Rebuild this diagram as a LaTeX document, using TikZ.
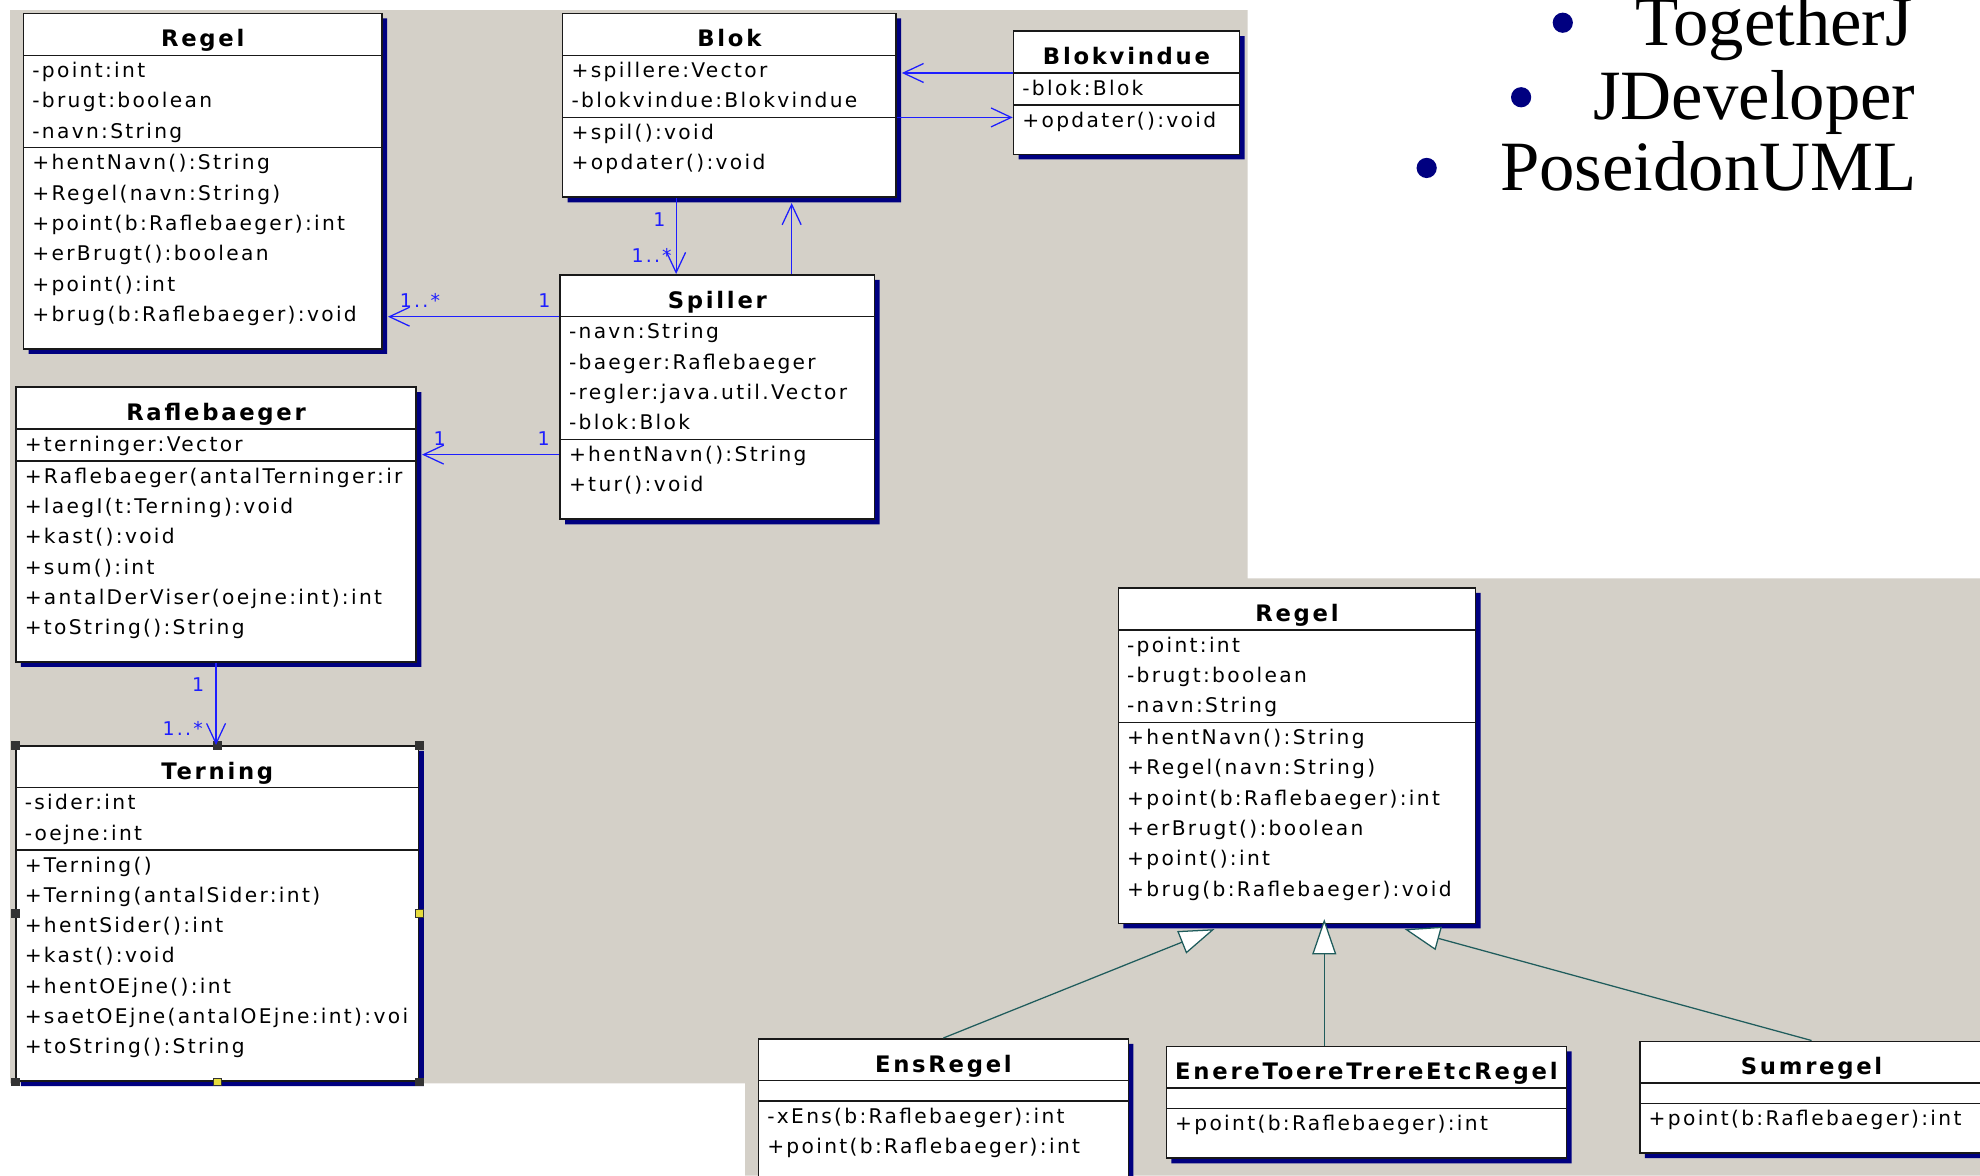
\documentclass[tikz,border=0pt]{standalone}
\usepackage{fontspec}
\newfontfamily\umlfont[LetterSpace=11.5]{DejaVu Sans}
\newfontfamily\umlhead[LetterSpace=12]{DejaVu Sans}
\newfontfamily\slidefont{Liberation Serif}
\usetikzlibrary{arrows.meta,positioning,calc,shapes.multipart,shadows}
\definecolor{panel}{HTML}{D4D0C8}
\definecolor{navy}{HTML}{000080}
\definecolor{linkblue}{HTML}{1E1EFF}
\definecolor{genline}{HTML}{1F5C5C}
\definecolor{gripdark}{HTML}{333333}
\definecolor{gripyellow}{HTML}{E6DC3C}
\newcommand{\lnstrut}{\rule[-7pt]{0pt}{24pt}}
\newcommand{\padstrut}{\rule[-21pt]{0pt}{38pt}}
\newcommand{\nostrut}{\rule{0pt}{15pt}}
\newcommand{\classname}[1]{{\umlhead\fontsize{18}{32}\selectfont\bfseries\rule[-6pt]{0pt}{32pt}#1}}
\tikzset{
  cls/.style={rectangle split,rectangle split parts=3,rectangle split part align={center,left,left},
    draw=black!90,line width=1.2pt,fill=white,align=left,inner xsep=7pt,inner ysep=0pt,anchor=north west,
    font=\umlfont\fontsize{16}{24}\selectfont,
    drop shadow={shadow xshift=4pt,shadow yshift=-4pt,fill=navy,opacity=1}},
  assoc/.style={draw=linkblue,line width=1pt,-{Straight Barb[length=16pt,width=15pt]}},
  gen/.style={draw=genline,line width=1pt,-{Triangle[length=28pt,width=19pt,fill=white]}},
  mult/.style={font=\umlfont\fontsize{15}{15}\selectfont,text=linkblue,inner sep=0pt},
  grip/.style={draw=gripdark,fill=gripdark,minimum size=6pt,inner sep=0pt},
  gripy/.style={grip,fill=gripyellow},
  slide/.style={font=\slidefont\fontsize{56}{60}\selectfont,inner sep=0pt,anchor=base east},
  dot/.style={circle,fill=navy,minimum size=16pt,inner sep=0pt},
}
\begin{document}
\begin{tikzpicture}[x=1pt,y=-1pt]
\useasboundingbox (0,0) rectangle (1568,931);
\clip (0,0) rectangle (1568,931);
\fill[panel] (8,8) -- (988,8) -- (988,458) -- (1568,458) -- (1568,931) -- (590,931) -- (590,858) -- (8,858) -- cycle;

% upper diagram
\node[cls,minimum width=284pt] (regel) at (18,10) {\classname{Regel}
  \nodepart{two}\lnstrut-point:int\\-brugt:boolean\\-navn:String\lnstrut
  \nodepart{three}\lnstrut+hentNavn():String\\+Regel(navn:String)\\+point(b:Raflebaeger):int\\+erBrugt():boolean\\+point():int\\+brug(b:Raflebaeger):void\padstrut};
\node[cls,minimum width=264pt] (blok) at (445,10) {\classname{Blok}
  \nodepart{two}\lnstrut+spillere:Vector\\-blokvindue:Blokvindue\lnstrut
  \nodepart{three}\lnstrut+spil():void\\+opdater():void\padstrut};
\node[cls,minimum width=179pt] (vindue) at (802,24) {\classname{Blokvindue}
  \nodepart{two}\lnstrut-blok:Blok
  \nodepart{three}\padstrut+opdater():void};
\node[cls,minimum width=249pt] (spiller) at (443,217) {\classname{Spiller}
  \nodepart{two}\lnstrut-navn:String\\-baeger:Raflebaeger\\-regler:java.util.Vector\\-blok:Blok\lnstrut
  \nodepart{three}\lnstrut+hentNavn():String\\+tur():void\padstrut};
\node[cls,minimum width=317pt] (baeger) at (12,306) {\classname{Raflebaeger}
  \nodepart{two}\lnstrut+terninger:Vector
  \nodepart{three}\lnstrut+Raflebaeger(antalTerninger:ir\\+laegI(t:Terning):void\\+kast():void\\+sum():int\\+antalDerViser(oejne:int):int\\+toString():String\padstrut};
\node[cls,minimum width=319pt] (terning) at (12,590) {\classname{Terning}
  \nodepart{two}\lnstrut-sider:int\\-oejne:int\lnstrut
  \nodepart{three}\lnstrut+Terning()\\+Terning(antalSider:int)\\+hentSider():int\\+kast():void\\+hentOEjne():int\\+saetOEjne(antalOEjne:int):voi\\+toString():String\padstrut};

% selection handles
\foreach \a in {north west,north east,south west,south east,west,north}
  \node[grip] (grip-\a) at (terning.\a) {};
\foreach \a in {east,south}
  \node[gripy] (grip-\a) at (terning.\a) {};

\coordinate (sr) at ($(spiller.two split west)+(0,12)$);
\coordinate (bs) at ($(blok.south west)!.341!(blok.south east)$);
\coordinate (sb) at ($(blok.south west)!.686!(blok.south east)$);

\draw[assoc,shorten >=4pt] (spiller.text split west) -- node[mult,pos=.085,above=7pt] (m1) {1} node[mult,pos=.79,above=7pt] (m2) {1..*} (spiller.text split west -| regel.east);
\draw[assoc,shorten >=4pt] (sr) -- node[mult,pos=.11,above=7pt] (m3) {1} node[mult,pos=.84,above=7pt] (m4) {1} (sr -| baeger.east);
\draw[assoc] (bs) -- node[mult,pos=.28,left=8pt] (m5) {1} node[mult,pos=.75,left=3pt] (m6) {1..*} (bs |- spiller.north);
\draw[assoc,shorten >=4pt] (sb |- spiller.north) -- (sb);
\draw[assoc,shorten >=4pt] (vindue.text split west) -- (vindue.text split west -| blok.east);
\draw[assoc] (blok.two split east) -- (blok.two split east -| vindue.west);
\draw[assoc] (baeger.south) -- node[mult,pos=.26,left=9pt] (m7) {1} node[mult,pos=.8,left=10pt] (m8) {1..*} (baeger.south |- terning.north);

% lower diagram
\node[cls,minimum width=283pt] (regel2) at (885,465) {\classname{Regel}
  \nodepart{two}\lnstrut-point:int\\-brugt:boolean\\-navn:String\lnstrut
  \nodepart{three}\lnstrut+hentNavn():String\\+Regel(navn:String)\\+point(b:Raflebaeger):int\\+erBrugt():boolean\\+point():int\\+brug(b:Raflebaeger):void\padstrut};
\node[cls,minimum width=293pt] (ens) at (600,822) {\classname{EnsRegel}
  \nodepart{two}\nostrut
  \nodepart{three}\lnstrut-xEns(b:Raflebaeger):int\\+point(b:Raflebaeger):int\rule[-40pt]{0pt}{57pt}};
\node[cls,minimum width=317pt] (enere) at (923,828) {\classname{EnereToereTrereEtcRegel}
  \nodepart{two}\nostrut
  \nodepart{three}\padstrut+point(b:Raflebaeger):int};
\node[cls,minimum width=272pt] (sum) at (1298,824) {\classname{Sumregel}
  \nodepart{two}\nostrut
  \nodepart{three}\padstrut+point(b:Raflebaeger):int};

\coordinate (gl) at ($(regel2.south west)!.27!(regel2.south east)+(0,4)$);
\coordinate (gm) at ($(enere.north west)!.395!(enere.north east)$);
\coordinate (gr) at ($(regel2.south west)!.8!(regel2.south east)+(0,4)$);
\draw[gen] (ens.north) -- (gl);
\draw[gen,shorten >=-4pt] (gm) -- (gm |- regel2.south);
\draw[gen] (sum.north) -- (gr);

% tool list
\node[slide] (tj) at (1515,36) {TogetherJ};
\node[slide] (jd) at (1517,95) {JDeveloper};
\node[slide] (pu) at (1518,151) {PoseidonUML};
\node[dot] (d1) at ($(tj.base west)+(-57,-18)$) {};
\node[dot] (d2) at ($(jd.base west)+(-57,-18)$) {};
\node[dot] (d3) at ($(pu.base west)+(-58,-18)$) {};
\end{tikzpicture}
\end{document}
